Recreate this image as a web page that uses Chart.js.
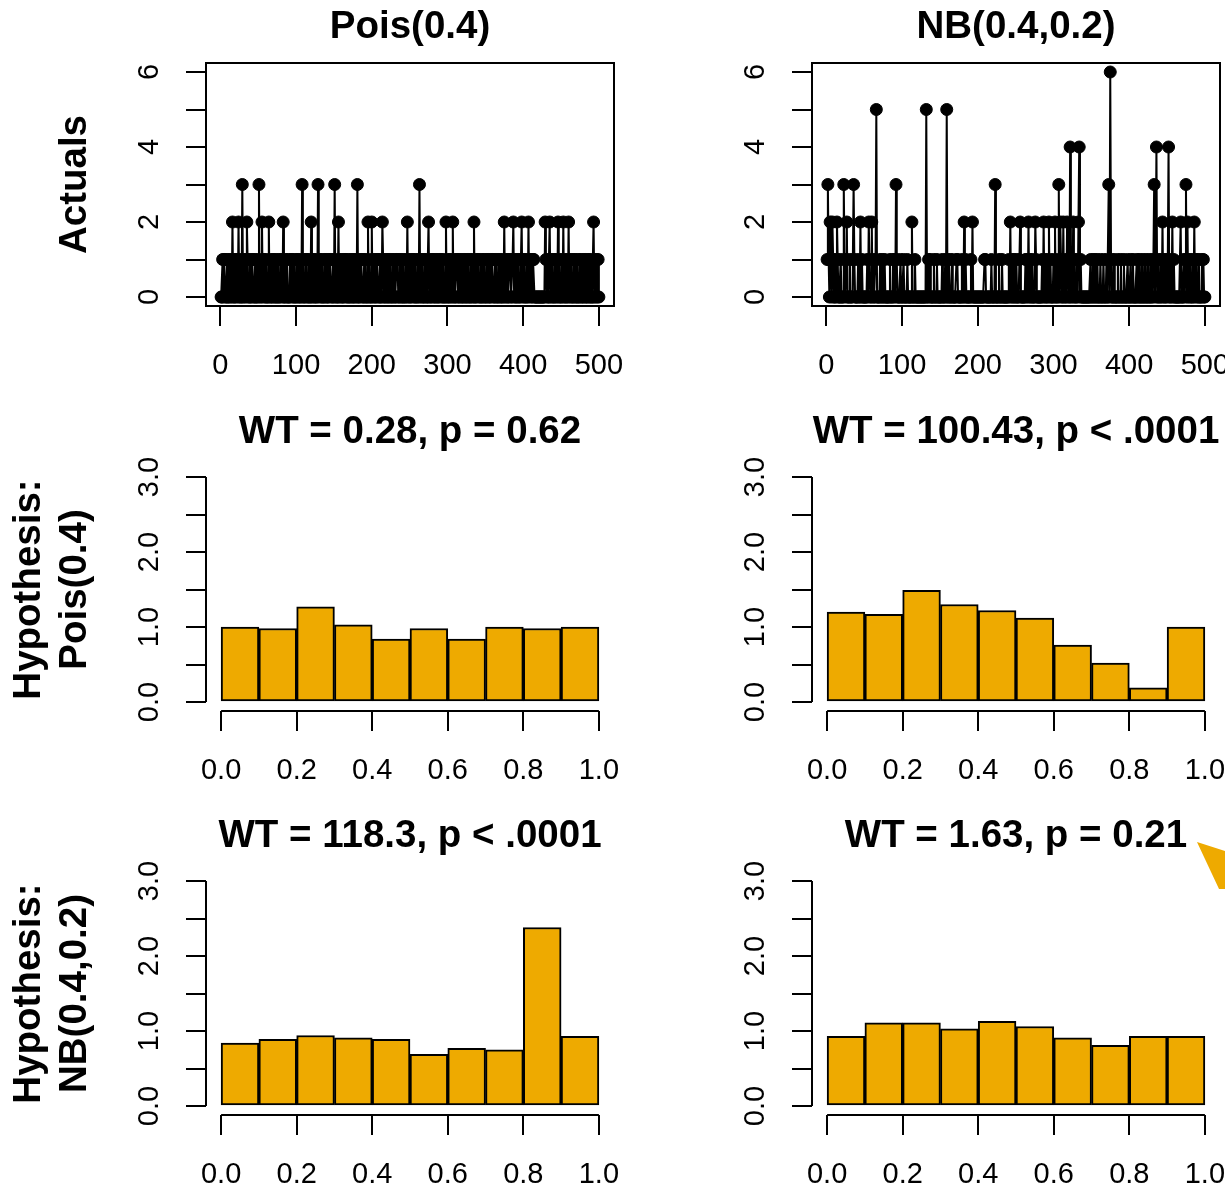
<!DOCTYPE html>
<html>
<head>
<meta charset="utf-8">
<script src="https://cdn.jsdelivr.net/npm/chart.js@4.4.1/dist/chart.umd.min.js"></script>
<style>
html,body{margin:0;padding:0;background:#fff;overflow:hidden;}
#wrap{position:relative;width:1225px;height:1187px;overflow:hidden;background:#fff;}
#wrap canvas{position:absolute;}
#arrow{position:absolute;left:0;top:0;pointer-events:none;}
</style>
</head>
<body>
<div id="wrap">
<canvas id="p00" width="640" height="405" style="left:0px;top:0px;width:640px;height:405px"></canvas>
<canvas id="p01" width="640" height="405" style="left:606px;top:0px;width:640px;height:405px"></canvas>
<canvas id="p10" width="640" height="405" style="left:0px;top:405px;width:640px;height:405px"></canvas>
<canvas id="p11" width="640" height="405" style="left:606px;top:405px;width:640px;height:405px"></canvas>
<canvas id="p20" width="640" height="405" style="left:0px;top:809px;width:640px;height:405px"></canvas>
<canvas id="p21" width="640" height="405" style="left:606px;top:809px;width:640px;height:405px"></canvas>
<svg id="arrow" width="1225" height="1187"><polygon points="1197,842 1225,851 1225,889 1219,889" fill="#EEAA00"/></svg>
</div>
<script>
// ---------------- data ----------------
const poisActuals = [
0,0,1,0,1, 1,0,0,1,0, 0,1,0,1,0, 2,0,1,0,0, 1,1,0,2,0,
1,0,0,3,0, 1,0,1,0,2, 1,0,0,1,0, 0,1,1,0,0, 1,0,0,1,0,
3,0,1,0,2, 0,1,1,0,0, 1,0,0,2,0, 1,0,0,1,0, 1,0,0,1,0,
0,1,0,0,1, 1,0,2,0,0, 1,0,1,0,0, 0,1,0,1,1, 0,0,1,0,0,
1,0,1,0,0, 1,0,3,0,1, 0,0,1,1,0, 0,1,0,0,2, 0,1,0,1,0,
0,1,0,3,0, 1,1,0,0,1, 0,0,1,0,1, 0,0,1,0,1, 1,0,0,1,0,
3,0,1,0,0, 2,0,1,0,1, 0,0,1,0,1, 1,0,0,1,0, 0,1,0,1,0,
0,1,0,1,0, 3,0,0,1,0, 1,1,0,0,1, 0,1,0,0,2, 0,1,0,0,2,
0,1,0,1,0, 0,1,1,0,0, 1,0,0,2,1, 0,0,1,0,1, 0,0,1,0,1,
0,0,1,0,1, 0,0,1,1,0, 0,1,0,1,0, 0,1,0,0,1, 0,2,0,1,0,
0,1,0,1,1, 0,0,1,0,0, 1,0,3,0,1, 0,1,0,0,1, 0,1,0,0,2,
0,1,0,0,1, 1,0,0,1,0, 1,0,0,1,0, 1,1,0,0,1, 0,0,2,0,1,
0,0,1,0,1, 0,2,0,1,0, 0,1,1,0,0, 1,0,1,0,0, 1,0,1,0,0,
1,0,1,0,0, 1,0,1,0,2, 0,0,1,0,1, 1,0,0,1,0, 0,1,0,1,0,
0,1,0,1,0, 0,1,0,1,1, 0,0,1,0,1, 0,0,1,0,1, 0,0,1,0,2,
0,1,0,1,0, 0,1,1,0,0, 1,2,0,1,0, 0,1,0,1,0, 0,1,2,0,1,
0,1,0,0,1, 0,2,0,1,1, 0,0,1,1,0, 0,0,0,0,0, 0,0,0,0,0,
0,0,0,2,1, 0,1,0,0,2, 0,1,0,1,0, 0,1,0,1,0, 2,0,1,0,0,
1,0,2,0,1, 0,0,1,0,2, 0,1,0,1,0, 0,1,0,1,0, 0,1,0,0,1,
0,1,0,0,1, 0,1,0,0,1, 0,1,0,0,1, 0,0,2,0,1, 0,1,0,1,0
];
const nbActuals = [
1,3,1,0,2, 1,0,2,1,0, 0,1,0,2,1, 0,0,0,1,0, 0,0,3,1,0,
1,2,0,0,0, 1,0,0,0,1, 3,1,0,0,0, 0,1,0,0,2, 0,1,0,0,0,
0,0,0,1,0, 2,1,0,0,2, 0,1,0,0,1, 5,0,0,0,0, 1,0,0,1,0,
0,1,0,0,0, 0,0,0,1,0, 0,0,1,0,1, 0,3,1,0,0, 0,0,1,0,0,
0,1,0,0,0, 0,1,0,0,0, 0,0,2,0,0, 0,1,0,0,0, 0,0,0,0,0,
0,0,0,0,0, 0,5,0,0,1, 0,1,0,0,0, 0,1,0,0,0, 1,0,0,0,0,
0,0,1,0,0, 0,1,0,5,0, 0,1,0,0,0, 1,0,0,0,0, 0,1,1,0,0,
0,0,0,1,0, 0,2,0,1,0, 0,0,0,0,0, 1,0,2,0,0, 0,0,0,0,0,
0,0,0,0,0, 0,0,0,1,1, 0,0,0,0,0, 0,0,1,0,0, 0,0,3,0,0,
0,0,1,0,0, 0,1,0,0,0, 0,0,0,0,0, 1,0,2,0,1, 0,0,1,0,0,
1,0,0,0,1, 2,0,0,0,0, 0,0,1,0,1, 0,2,0,1,0, 0,1,0,0,0,
2,1,0,0,0, 0,0,0,0,1, 0,2,0,1,0, 0,1,0,2,0, 1,0,0,0,1,
0,2,0,0,1, 0,3,0,2,1, 0,0,2,0,1, 0,0,2,1,0, 0,4,0,1,0,
2,0,1,0,0, 1,0,2,4,0, 1,0,0,0,0, 0,0,0,0,0, 0,0,0,1,0,
0,1,0,0,1, 0,0,1,0,0, 0,1,0,0,0, 1,0,0,0,1, 0,0,3,0,6,
1,0,0,0,1, 0,0,0,0,1, 0,0,0,1,0, 0,0,1,0,0, 0,0,1,0,0,
0,1,0,0,1, 0,0,0,0,1, 0,0,1,0,0, 0,1,0,0,0, 1,0,0,0,1,
0,0,0,1,0, 0,1,3,0,1, 4,0,0,1,0, 0,1,0,2,0, 1,0,0,1,0,
1,4,0,0,1, 0,2,0,1,0, 0,0,0,0,0, 0,0,2,0,0, 0,1,0,1,3,
0,2,0,1,0, 1,0,0,1,0, 2,0,1,1,0, 0,1,0,0,0, 1,0,1,0,0
];
const colTitles = ['Pois(0.4)', 'NB(0.4,0.2)'];
const rowTitles = [['Actuals'], ['Hypothesis:', 'Pois(0.4)'], ['Hypothesis:', 'NB(0.4,0.2)']];
const histTitles = ['WT = 0.28, p = 0.62', 'WT = 100.43, p < .0001', 'WT = 118.3, p < .0001', 'WT = 1.63, p = 0.21'];
const binEdges = [0, 0.1, 0.2, 0.3, 0.4, 0.5, 0.6, 0.7, 0.8, 0.9, 1.0];
const densPoisHypPois = [1.00, 0.98, 1.27, 1.03, 0.84, 0.98, 0.84, 1.00, 0.98, 1.00];
const densNbHypPois   = [1.20, 1.17, 1.49, 1.30, 1.22, 1.12, 0.76, 0.52, 0.19, 1.00];
const densPoisHypNb   = [0.84, 0.89, 0.94, 0.91, 0.89, 0.69, 0.77, 0.75, 2.38, 0.93];
const densNbHypNb     = [0.93, 1.11, 1.11, 1.03, 1.13, 1.06, 0.91, 0.81, 0.93, 0.93];
const tsXTicks = [0, 100, 200, 300, 400, 500];
const tsXLabels = ['0', '100', '200', '300', '400', '500'];
const tsYTicks = [0, 1, 2, 3, 4, 5, 6];
const tsYLabelValues = [0, 2, 4, 6];
const tsYLabels = ['0', '2', '4', '6'];
const histXTicks = [0, 0.2, 0.4, 0.6, 0.8, 1.0];
const histXLabels = ['0.0', '0.2', '0.4', '0.6', '0.8', '1.0'];
const histYTicks = [0, 0.5, 1.0, 1.5, 2.0, 2.5, 3.0];
const histYLabelValues = [0, 1, 2, 3];
const histYLabels = ['0.0', '1.0', '2.0', '3.0'];

// ---------------- style ----------------
const FONT = '"Liberation Sans", Arial, sans-serif';
Chart.defaults.font.family = FONT;
Chart.defaults.color = '#000';
const BAR_COLOR = '#EEAA00';
const AXIS_W = 206, XAXIS_H = 99, TICK_LEN = 20, LW = 2;
const TICK_FONT = 29, BOLD_FONT = 38.5;

const rStyle = {
  id: 'rStyle',
  afterDraw(chart, args, o) {
    const {ctx, chartArea: a} = chart;
    const xs = chart.scales.x, ys = chart.scales.y;
    ctx.save();
    ctx.strokeStyle = '#000';
    ctx.lineWidth = LW;
    if (o.box) {
      ctx.strokeRect(a.left, a.top, a.right - a.left, a.bottom - a.top);
    } else {
      ctx.beginPath();
      ctx.moveTo(a.left, ys.getPixelForValue(o.yTicks[0]));
      ctx.lineTo(a.left, ys.getPixelForValue(o.yTicks[o.yTicks.length - 1]));
      ctx.moveTo(xs.getPixelForValue(o.xTicks[0]), a.bottom);
      ctx.lineTo(xs.getPixelForValue(o.xTicks[o.xTicks.length - 1]), a.bottom);
      ctx.stroke();
    }
    ctx.fillStyle = '#000';
    ctx.font = TICK_FONT + 'px ' + FONT;
    ctx.textAlign = 'center';
    ctx.textBaseline = 'middle';
    o.yLabelValues.forEach((v, i) => {
      ctx.save();
      ctx.translate(a.left - 56, ys.getPixelForValue(v));
      ctx.rotate(-Math.PI / 2);
      ctx.fillText(o.yLabels[i], 0, 0);
      ctx.restore();
    });
    ctx.restore();
  }
};

function fixW(s) { s.width = AXIS_W; s.paddingTop = 0; s.paddingBottom = 0; s.paddingLeft = 0; s.paddingRight = 0; }
function fixH(s) { s.height = XAXIS_H; s.paddingTop = 0; s.paddingBottom = 0; s.paddingLeft = 0; s.paddingRight = 0; }

function yTitleOpts(lines) {
  if (!lines) return {display: false};
  const lh = 46;
  const firstCenter = lines.length === 1 ? 75 : 29;
  return {display: true, text: lines, color: '#000',
    font: {size: BOLD_FONT, weight: 'bold', lineHeight: lh + 'px'},
    padding: {top: firstCenter - lh / 2, bottom: 0}};
}

function baseOptions(title, yTitle, xr, yr, xTicks, xLabels, yTicks) {
  const tlh = BOLD_FONT * 1.2;
  return {
    responsive: false, animation: false, events: [],
    layout: {padding: {left: 0, right: 26, top: 0, bottom: 0}},
    plugins: {
      legend: {display: false}, tooltip: {enabled: false},
      title: {display: true, text: title, fullSize: false, color: '#000',
        font: {size: BOLD_FONT, weight: 'bold', lineHeight: 1.2},
        padding: {top: 27 - tlh / 2, bottom: 63 - tlh - (27 - tlh / 2)}}
    },
    scales: {
      x: {type: 'linear', min: xr[0], max: xr[1], offset: false,
        afterBuildTicks: s => { s.ticks = xTicks.map(v => ({value: v})); },
        afterFit: fixH,
        ticks: {color: '#000', font: {size: TICK_FONT}, padding: 22.6, autoSkip: false, maxRotation: 0, minRotation: 0,
          callback: (v, i) => xLabels[i]},
        grid: {drawOnChartArea: false, drawTicks: true, tickLength: TICK_LEN, color: '#000', lineWidth: LW, offset: false},
        border: {display: false}},
      y: {type: 'linear', min: yr[0], max: yr[1],
        afterBuildTicks: s => { s.ticks = yTicks.map(v => ({value: v})); },
        afterFit: fixW,
        ticks: {display: false},
        grid: {drawOnChartArea: false, drawTicks: true, tickLength: TICK_LEN, color: '#000', lineWidth: LW},
        border: {display: false},
        title: yTitleOpts(yTitle)}
    }
  };
}

function ext(lo, hi) { const d = (hi - lo) * 0.04; return [lo - d, hi + d]; }

function tsChart(id, values, title, yTitle) {
  const opts = baseOptions(title, yTitle, ext(1, values.length), ext(0, 6), tsXTicks, tsXLabels, tsYTicks);
  opts.plugins.rStyle = {box: true, yLabelValues: tsYLabelValues, yLabels: tsYLabels};
  return new Chart(document.getElementById(id), {
    type: 'line',
    data: {datasets: [{
      data: values.map((v, i) => ({x: i + 1, y: v})),
      borderColor: '#000', borderWidth: 2, tension: 0,
      pointRadius: 6, pointBackgroundColor: '#000', pointBorderColor: '#000', pointBorderWidth: 1
    }]},
    options: opts,
    plugins: [rStyle]
  });
}

function histChart(id, dens, title, yTitle) {
  const centers = dens.map((d, i) => (binEdges[i] + binEdges[i + 1]) / 2);
  const opts = baseOptions(title, yTitle, ext(0, 1), ext(0, 3), histXTicks, histXLabels, histYTicks);
  opts.plugins.rStyle = {box: false, xTicks: histXTicks, yTicks: histYTicks, yLabelValues: histYLabelValues, yLabels: histYLabels};
  return new Chart(document.getElementById(id), {
    type: 'bar',
    data: {datasets: [{
      data: dens.map((d, i) => ({x: centers[i], y: d})),
      backgroundColor: BAR_COLOR, borderColor: '#000', borderWidth: 2, borderSkipped: false,
      barPercentage: 1, categoryPercentage: 1
    }]},
    options: opts,
    plugins: [rStyle]
  });
}

tsChart('p00', poisActuals, colTitles[0], rowTitles[0]);
tsChart('p01', nbActuals, colTitles[1], null);
histChart('p10', densPoisHypPois, histTitles[0], rowTitles[1]);
histChart('p11', densNbHypPois, histTitles[1], null);
histChart('p20', densPoisHypNb, histTitles[2], rowTitles[2]);
histChart('p21', densNbHypNb, histTitles[3], null);
</script>
</body>
</html>
